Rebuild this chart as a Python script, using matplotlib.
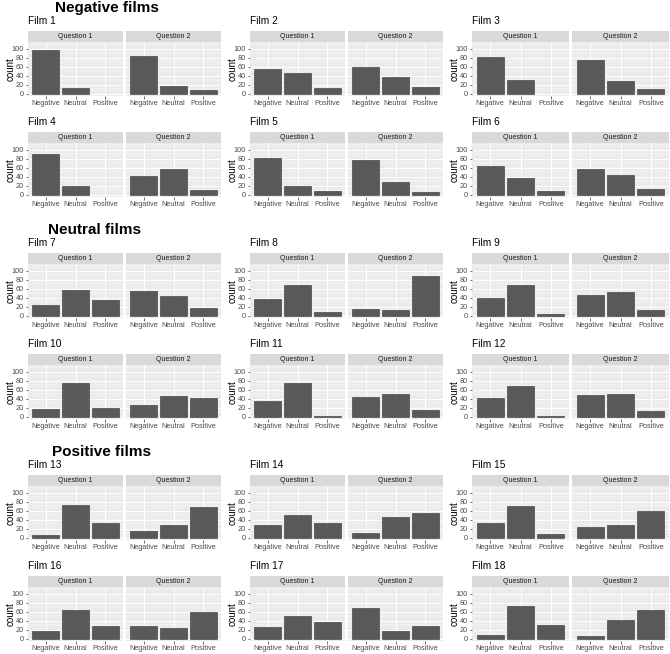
import matplotlib
matplotlib.use('Agg')
import matplotlib.pyplot as plt
from matplotlib.ticker import FixedLocator

plt.rcParams['font.family'] = ['Liberation Sans', 'DejaVu Sans']

# dados
categories = ['Negative', 'Neutral', 'Positive']
questions = ['Question 1', 'Question 2']
sections = ['Negative films', 'Neutral films', 'Positive films']
films = ['Film %d' % i for i in range(1, 19)]

q1_counts = [
    [97, 13, 0], [55, 46, 12], [82, 30, 0],
    [91, 20, 0], [82, 20, 9], [64, 38, 9],
    [23, 57, 35], [38, 68, 7], [40, 69, 3],
    [16, 76, 20], [34, 76, 2], [41, 69, 2],
    [5, 74, 32], [27, 51, 32], [32, 71, 7],
    [18, 63, 29], [26, 50, 37], [7, 74, 30],
]
q2_counts = [
    [84, 18, 9], [60, 37, 15], [76, 28, 10],
    [42, 57, 11], [78, 27, 6], [58, 43, 13],
    [54, 43, 16], [15, 12, 88], [47, 53, 12],
    [25, 45, 41], [43, 51, 15], [49, 51, 12],
    [14, 29, 68], [11, 45, 54], [23, 28, 60],
    [27, 24, 59], [68, 16, 28], [6, 42, 63],
]

W, H = 670, 654
fig = plt.figure(figsize=(W / 100, H / 100), dpi=100)
fig.patch.set_facecolor('white')

col_x = [28, 250, 472]
col_w = [95, 95, 97]
row_top = [42, 143, 264, 365, 486, 587]
panel_h, gap, strip_h = 54, 3, 11
section_pos = [(107, 8), (95, 230), (101, 452)]


def box(x, y, w, h):
    return [x / W, 1 - (y + h) / H, w / W, h / H]


for s, (sx, sy) in zip(sections, section_pos):
    fig.text(sx / W, 1 - sy / H, s, ha='center', va='center',
             fontsize=11, fontweight='bold')

xs = [1, 2, 3]
for i, film in enumerate(films):
    row = i // 3
    col = i % 3
    top = row_top[row]
    x0 = col_x[col]
    panel_w = col_w[col]
    fig.text(x0 / W, 1 - (top - strip_h - 10) / H, film, ha='left',
             va='center', fontsize=7.3)
    for j, (q, counts) in enumerate(zip(questions, [q1_counts[i], q2_counts[i]])):
        px = x0 + j * (panel_w + gap)
        # faixa do facet
        st = fig.add_axes(box(px, top - strip_h, panel_w, strip_h))
        st.set_facecolor('#D9D9D9')
        st.set_xticks([])
        st.set_yticks([])
        for sp in st.spines.values():
            sp.set_visible(False)
        st.text(0.5, 0.5, q, ha='center', va='center', fontsize=5,
                color='#1A1A1A', transform=st.transAxes)

        ax = fig.add_axes(box(px, top, panel_w, panel_h))
        ax.set_facecolor('#EBEBEB')
        bx = [x for x, c in zip(xs, counts) if c > 0]
        bh = [c for c in counts if c > 0]
        ax.bar(bx, bh, width=0.9, color='#595959', edgecolor='#333333',
               linewidth=0.4)
        ax.set_xlim(0.4, 3.6)
        ax.set_ylim(-5.5, 115.5)
        ax.set_xticks(xs)
        ax.set_xticklabels(categories)
        ax.set_yticks([0, 20, 40, 60, 80, 100])
        ax.yaxis.set_minor_locator(FixedLocator([10, 30, 50, 70, 90, 110]))
        ax.set_axisbelow(True)
        ax.grid(which='major', color='white', linewidth=0.7)
        ax.grid(which='minor', axis='y', color='white', linewidth=0.35)
        for sp in ax.spines.values():
            sp.set_visible(False)
        ax.tick_params(which='major', length=1.8, width=0.5, color='#333333',
                       labelsize=5.3, labelcolor='#4D4D4D', pad=1)
        ax.tick_params(which='minor', length=0)
        if j == 0:
            ax.set_ylabel('count', fontsize=7)
            ax.yaxis.set_label_coords(-12 / panel_w, 0.5)
        else:
            ax.tick_params(axis='y', left=False, labelleft=False)

fig.savefig('out.png', dpi=100)
